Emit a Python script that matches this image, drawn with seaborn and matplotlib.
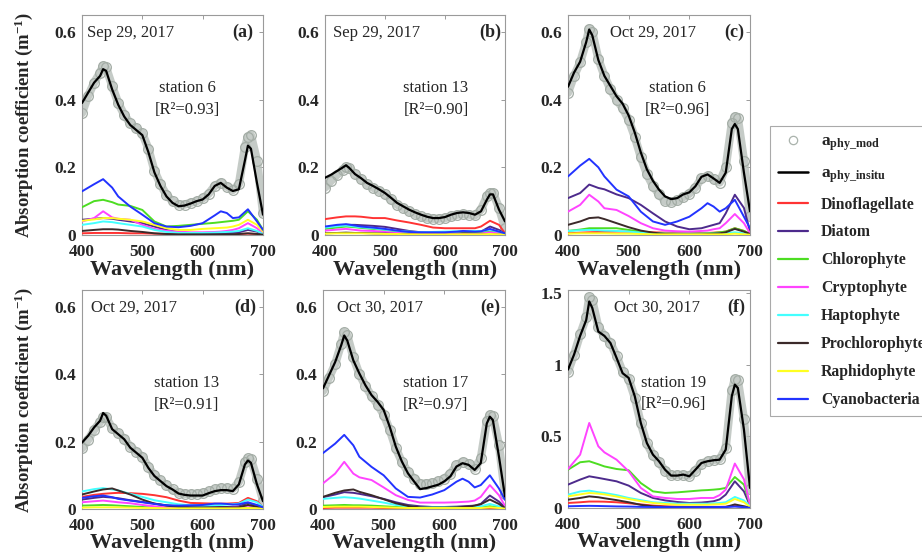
import numpy as np
import pandas as pd
import matplotlib
matplotlib.use("Agg")
import matplotlib.pyplot as plt
import seaborn as sns
from matplotlib.lines import Line2D

sns.set_theme(style="white")
plt.rcParams["font.family"] = ["Liberation Serif", "DejaVu Serif"]
plt.rcParams["mathtext.fontset"] = "custom"
plt.rcParams["mathtext.rm"] = "Liberation Serif"
plt.rcParams["mathtext.bf"] = "Liberation Serif:bold"
plt.rcParams["mathtext.it"] = "Liberation Serif:italic"

# ---------------- data ----------------
WL = [400, 410, 420, 430, 435, 440, 450, 460, 470, 480, 490, 500, 510, 520, 530, 540,
      550, 560, 570, 580, 590, 600, 610, 620, 630, 640, 650, 660, 670, 675, 680, 690, 700]
WL_C = [400, 420, 435, 450, 460, 480, 500, 520, 540, 560, 580, 600, 620, 630, 640, 650,
        660, 675, 690, 700]

GROUPS = ["Dinoflagellate", "Diatom", "Chlorophyte", "Cryptophyte", "Haptophyte",
          "Prochlorophyte", "Raphidophyte", "Cyanobacteria"]

PANEL_LABELS = ["(a)", "(b)", "(c)", "(d)", "(e)", "(f)"]
DATES = ["Sep 29, 2017", "Sep 29, 2017", "Oct 29, 2017", "Oct 29, 2017", "Oct 30, 2017", "Oct 30, 2017"]
STATIONS = ["station 6", "station 13", "station 6", "station 13", "station 17", "station 19"]
R2 = ["0.93", "0.90", "0.96", "0.91", "0.97", "0.96"]

insitu_a = [0.39, 0.42, 0.45, 0.47, 0.49, 0.485, 0.43, 0.385, 0.35, 0.325, 0.31, 0.295, 0.245, 0.185, 0.145, 0.114,
            0.095, 0.085, 0.087, 0.093, 0.10, 0.105, 0.12, 0.145, 0.154, 0.14, 0.13, 0.135, 0.22, 0.264, 0.255, 0.154, 0.06]
mod_a = [0.36, 0.41, 0.45, 0.48, 0.50, 0.495, 0.44, 0.39, 0.355, 0.33, 0.315, 0.30, 0.255, 0.19, 0.15, 0.118,
         0.10, 0.09, 0.09, 0.095, 0.10, 0.108, 0.122, 0.145, 0.155, 0.143, 0.133, 0.15, 0.26, 0.29, 0.295, 0.22, 0.065]
insitu_b = [0.169, 0.178, 0.189, 0.20, 0.206, 0.199, 0.18, 0.168, 0.154, 0.145, 0.135, 0.124, 0.11, 0.095, 0.085, 0.075,
            0.067, 0.06, 0.054, 0.05, 0.05, 0.053, 0.06, 0.065, 0.067, 0.065, 0.06, 0.07, 0.105, 0.12, 0.12, 0.075, 0.04]
mod_b = [0.14, 0.16, 0.178, 0.192, 0.20, 0.198, 0.18, 0.165, 0.15, 0.14, 0.13, 0.12, 0.105, 0.09, 0.08, 0.07,
         0.062, 0.055, 0.05, 0.048, 0.048, 0.05, 0.055, 0.06, 0.062, 0.06, 0.058, 0.075, 0.115, 0.125, 0.125, 0.08, 0.02]
insitu_c = [0.438, 0.48, 0.512, 0.57, 0.607, 0.59, 0.517, 0.47, 0.44, 0.41, 0.388, 0.353, 0.303, 0.244, 0.194, 0.16,
            0.134, 0.114, 0.106, 0.109, 0.12, 0.126, 0.144, 0.172, 0.179, 0.167, 0.154, 0.184, 0.313, 0.328, 0.313, 0.184, 0.07]
mod_c = [0.42, 0.47, 0.51, 0.57, 0.61, 0.60, 0.52, 0.47, 0.43, 0.40, 0.375, 0.34, 0.29, 0.23, 0.18, 0.145,
         0.12, 0.10, 0.097, 0.102, 0.112, 0.122, 0.14, 0.168, 0.175, 0.165, 0.155, 0.20, 0.33, 0.35, 0.345, 0.22, 0.055]
insitu_d = [0.197, 0.217, 0.242, 0.262, 0.285, 0.277, 0.237, 0.222, 0.207, 0.182, 0.167, 0.152, 0.122, 0.098, 0.083, 0.068,
            0.058, 0.046, 0.042, 0.04, 0.04, 0.04, 0.047, 0.053, 0.056, 0.056, 0.053, 0.073, 0.132, 0.144, 0.137, 0.073, 0.023]
mod_d = [0.18, 0.205, 0.235, 0.258, 0.272, 0.272, 0.24, 0.225, 0.208, 0.185, 0.17, 0.155, 0.125, 0.10, 0.085, 0.07,
         0.058, 0.048, 0.045, 0.044, 0.045, 0.047, 0.052, 0.058, 0.062, 0.062, 0.06, 0.08, 0.14, 0.15, 0.148, 0.09, 0.025]
insitu_e = [0.358, 0.397, 0.436, 0.486, 0.515, 0.50, 0.441, 0.402, 0.367, 0.338, 0.318, 0.294, 0.244, 0.185, 0.141, 0.106,
            0.082, 0.059, 0.062, 0.067, 0.072, 0.082, 0.097, 0.126, 0.136, 0.131, 0.116, 0.136, 0.254, 0.274, 0.264, 0.156, 0.037]
mod_e = [0.35, 0.39, 0.43, 0.49, 0.525, 0.515, 0.45, 0.40, 0.365, 0.335, 0.31, 0.28, 0.235, 0.18, 0.14, 0.11,
         0.09, 0.075, 0.075, 0.078, 0.082, 0.09, 0.105, 0.13, 0.14, 0.135, 0.12, 0.15, 0.26, 0.28, 0.275, 0.19, 0.045]
insitu_f = [0.965, 1.07, 1.20, 1.31, 1.44, 1.395, 1.23, 1.20, 1.15, 1.047, 0.94, 0.907, 0.78, 0.593, 0.453, 0.372,
            0.326, 0.267, 0.226, 0.226, 0.233, 0.221, 0.267, 0.314, 0.326, 0.333, 0.337, 0.407, 0.78, 0.86, 0.837, 0.547, 0.14]
mod_f = [0.95, 1.07, 1.21, 1.33, 1.47, 1.45, 1.26, 1.20, 1.15, 1.06, 0.95, 0.90, 0.77, 0.59, 0.45, 0.37,
         0.32, 0.26, 0.23, 0.23, 0.23, 0.225, 0.26, 0.31, 0.325, 0.335, 0.34, 0.42, 0.82, 0.90, 0.89, 0.62, 0.13]

# components on WL_C, order as GROUPS
comp_a = [
    [0.005, 0.006, 0.006, 0.006, 0.006, 0.005, 0.005, 0.004, 0.003, 0.002, 0.002, 0.002, 0.002, 0.002, 0.002, 0.002, 0.003, 0.004, 0.003, 0.001],
    [0.045, 0.048, 0.05, 0.048, 0.045, 0.04, 0.035, 0.025, 0.015, 0.008, 0.005, 0.005, 0.005, 0.006, 0.006, 0.006, 0.008, 0.015, 0.01, 0.002],
    [0.082, 0.10, 0.104, 0.097, 0.09, 0.086, 0.074, 0.04, 0.025, 0.027, 0.03, 0.033, 0.036, 0.038, 0.04, 0.042, 0.045, 0.07, 0.045, 0.015],
    [0.04, 0.05, 0.07, 0.052, 0.048, 0.045, 0.03, 0.018, 0.012, 0.01, 0.008, 0.008, 0.009, 0.01, 0.012, 0.015, 0.02, 0.035, 0.02, 0.005],
    [0.03, 0.035, 0.04, 0.038, 0.035, 0.03, 0.025, 0.015, 0.009, 0.006, 0.006, 0.006, 0.007, 0.008, 0.009, 0.01, 0.012, 0.02, 0.012, 0.003],
    [0.012, 0.015, 0.017, 0.017, 0.016, 0.012, 0.009, 0.005, 0.003, 0.002, 0.002, 0.002, 0.002, 0.002, 0.002, 0.002, 0.003, 0.005, 0.003, 0.001],
    [0.042, 0.046, 0.05, 0.05, 0.048, 0.045, 0.04, 0.03, 0.02, 0.015, 0.015, 0.018, 0.02, 0.021, 0.022, 0.025, 0.03, 0.045, 0.03, 0.01],
    [0.129, 0.15, 0.165, 0.14, 0.114, 0.084, 0.06, 0.035, 0.025, 0.023, 0.027, 0.035, 0.058, 0.07, 0.065, 0.05, 0.052, 0.076, 0.04, 0.015],
]
comp_b = [
    [0.047, 0.052, 0.055, 0.055, 0.054, 0.05, 0.05, 0.043, 0.037, 0.03, 0.022, 0.02, 0.02, 0.02, 0.02, 0.02, 0.025, 0.042, 0.03, 0.005],
    [0.022, 0.027, 0.03, 0.03, 0.029, 0.027, 0.024, 0.018, 0.012, 0.008, 0.006, 0.005, 0.005, 0.006, 0.006, 0.006, 0.01, 0.025, 0.015, 0.003],
    [0.018, 0.022, 0.025, 0.023, 0.021, 0.018, 0.015, 0.01, 0.007, 0.006, 0.005, 0.004, 0.004, 0.004, 0.004, 0.005, 0.006, 0.012, 0.008, 0.002],
    [0.013, 0.016, 0.018, 0.015, 0.013, 0.012, 0.009, 0.006, 0.004, 0.003, 0.003, 0.003, 0.003, 0.003, 0.003, 0.003, 0.004, 0.008, 0.005, 0.001],
    [0.022, 0.026, 0.028, 0.025, 0.023, 0.02, 0.016, 0.012, 0.01, 0.008, 0.009, 0.01, 0.011, 0.012, 0.012, 0.012, 0.012, 0.015, 0.01, 0.003],
    [0.005, 0.006, 0.007, 0.006, 0.006, 0.005, 0.004, 0.003, 0.002, 0.001, 0.001, 0.001, 0.001, 0.001, 0.001, 0.001, 0.001, 0.002, 0.001, 0.0],
    [0.004, 0.005, 0.005, 0.005, 0.005, 0.004, 0.003, 0.003, 0.002, 0.002, 0.002, 0.002, 0.002, 0.002, 0.002, 0.002, 0.002, 0.003, 0.002, 0.001],
    [0.025, 0.03, 0.032, 0.028, 0.025, 0.022, 0.018, 0.013, 0.009, 0.008, 0.008, 0.008, 0.01, 0.012, 0.011, 0.01, 0.011, 0.018, 0.01, 0.005],
]
comp_c = [
    [0.005, 0.007, 0.008, 0.009, 0.009, 0.01, 0.01, 0.009, 0.008, 0.007, 0.006, 0.006, 0.006, 0.006, 0.007, 0.008, 0.01, 0.02, 0.012, 0.003],
    [0.109, 0.124, 0.149, 0.139, 0.135, 0.12, 0.109, 0.089, 0.064, 0.04, 0.025, 0.017, 0.02, 0.025, 0.03, 0.035, 0.064, 0.119, 0.08, 0.01],
    [0.012, 0.016, 0.02, 0.02, 0.02, 0.02, 0.015, 0.01, 0.006, 0.004, 0.003, 0.003, 0.004, 0.005, 0.006, 0.008, 0.01, 0.02, 0.012, 0.003],
    [0.069, 0.089, 0.119, 0.099, 0.079, 0.074, 0.056, 0.035, 0.02, 0.013, 0.011, 0.01, 0.012, 0.013, 0.017, 0.02, 0.035, 0.062, 0.035, 0.005],
    [0.012, 0.014, 0.015, 0.014, 0.013, 0.012, 0.01, 0.007, 0.005, 0.004, 0.004, 0.004, 0.004, 0.004, 0.004, 0.005, 0.005, 0.008, 0.005, 0.001],
    [0.03, 0.04, 0.05, 0.052, 0.047, 0.035, 0.023, 0.013, 0.007, 0.003, 0.002, 0.002, 0.002, 0.003, 0.004, 0.005, 0.008, 0.018, 0.01, 0.003],
    [0.004, 0.005, 0.005, 0.005, 0.005, 0.004, 0.004, 0.003, 0.002, 0.002, 0.002, 0.002, 0.002, 0.002, 0.002, 0.002, 0.002, 0.004, 0.002, 0.001],
    [0.173, 0.205, 0.225, 0.20, 0.173, 0.134, 0.114, 0.069, 0.04, 0.03, 0.04, 0.054, 0.079, 0.094, 0.084, 0.069, 0.079, 0.104, 0.054, 0.02],
]
comp_d = [
    [0.036, 0.042, 0.045, 0.047, 0.048, 0.047, 0.045, 0.041, 0.035, 0.025, 0.018, 0.017, 0.016, 0.016, 0.016, 0.017, 0.018, 0.033, 0.023, 0.006],
    [0.028, 0.033, 0.036, 0.034, 0.032, 0.026, 0.021, 0.016, 0.011, 0.008, 0.006, 0.006, 0.006, 0.006, 0.006, 0.006, 0.008, 0.018, 0.01, 0.003],
    [0.01, 0.011, 0.012, 0.011, 0.01, 0.008, 0.006, 0.004, 0.003, 0.002, 0.002, 0.002, 0.002, 0.002, 0.002, 0.002, 0.002, 0.004, 0.002, 0.001],
    [0.02, 0.023, 0.025, 0.022, 0.02, 0.017, 0.012, 0.008, 0.005, 0.004, 0.003, 0.003, 0.003, 0.003, 0.003, 0.004, 0.005, 0.01, 0.006, 0.001],
    [0.052, 0.059, 0.062, 0.058, 0.055, 0.045, 0.036, 0.026, 0.02, 0.014, 0.011, 0.01, 0.011, 0.012, 0.013, 0.014, 0.016, 0.028, 0.02, 0.006],
    [0.043, 0.052, 0.058, 0.061, 0.055, 0.043, 0.028, 0.016, 0.01, 0.006, 0.004, 0.004, 0.004, 0.004, 0.004, 0.004, 0.005, 0.012, 0.007, 0.002],
    [0.004, 0.005, 0.005, 0.005, 0.005, 0.004, 0.003, 0.003, 0.002, 0.002, 0.002, 0.002, 0.002, 0.002, 0.002, 0.002, 0.002, 0.003, 0.002, 0.001],
    [0.033, 0.038, 0.04, 0.035, 0.03, 0.025, 0.02, 0.015, 0.011, 0.01, 0.011, 0.012, 0.016, 0.016, 0.015, 0.013, 0.014, 0.02, 0.012, 0.005],
]
comp_e = [
    [0.003, 0.004, 0.004, 0.004, 0.004, 0.004, 0.003, 0.003, 0.002, 0.002, 0.002, 0.002, 0.002, 0.002, 0.002, 0.002, 0.002, 0.003, 0.002, 0.001],
    [0.035, 0.043, 0.05, 0.048, 0.045, 0.038, 0.03, 0.02, 0.012, 0.008, 0.006, 0.006, 0.007, 0.008, 0.009, 0.01, 0.015, 0.04, 0.022, 0.005],
    [0.01, 0.011, 0.012, 0.011, 0.011, 0.01, 0.008, 0.006, 0.005, 0.004, 0.004, 0.004, 0.004, 0.004, 0.004, 0.004, 0.005, 0.008, 0.005, 0.002],
    [0.076, 0.105, 0.14, 0.105, 0.094, 0.086, 0.064, 0.041, 0.027, 0.019, 0.019, 0.019, 0.02, 0.021, 0.022, 0.025, 0.036, 0.071, 0.041, 0.009],
    [0.03, 0.033, 0.035, 0.033, 0.031, 0.025, 0.019, 0.012, 0.008, 0.005, 0.005, 0.005, 0.005, 0.005, 0.006, 0.007, 0.008, 0.015, 0.008, 0.003],
    [0.036, 0.048, 0.055, 0.058, 0.051, 0.041, 0.029, 0.017, 0.009, 0.005, 0.004, 0.004, 0.005, 0.006, 0.007, 0.01, 0.014, 0.028, 0.015, 0.003],
    [0.006, 0.007, 0.007, 0.007, 0.007, 0.006, 0.005, 0.004, 0.003, 0.003, 0.003, 0.003, 0.003, 0.003, 0.003, 0.003, 0.003, 0.005, 0.003, 0.001],
    [0.166, 0.194, 0.22, 0.189, 0.155, 0.125, 0.10, 0.061, 0.036, 0.034, 0.043, 0.056, 0.081, 0.09, 0.081, 0.064, 0.071, 0.10, 0.061, 0.027],
]
comp_f = [
    [0.035, 0.04, 0.045, 0.045, 0.044, 0.04, 0.033, 0.025, 0.017, 0.012, 0.01, 0.008, 0.008, 0.008, 0.008, 0.008, 0.009, 0.015, 0.009, 0.002],
    [0.163, 0.198, 0.221, 0.21, 0.202, 0.186, 0.156, 0.105, 0.07, 0.053, 0.042, 0.035, 0.038, 0.042, 0.047, 0.06, 0.093, 0.186, 0.116, 0.016],
    [0.267, 0.319, 0.326, 0.305, 0.29, 0.272, 0.263, 0.174, 0.116, 0.105, 0.109, 0.116, 0.123, 0.125, 0.128, 0.132, 0.14, 0.216, 0.163, 0.023],
    [0.272, 0.372, 0.593, 0.43, 0.388, 0.337, 0.256, 0.14, 0.081, 0.07, 0.063, 0.063, 0.07, 0.07, 0.07, 0.09, 0.128, 0.31, 0.20, 0.023],
    [0.093, 0.115, 0.121, 0.11, 0.105, 0.09, 0.07, 0.055, 0.04, 0.035, 0.03, 0.03, 0.03, 0.03, 0.032, 0.035, 0.04, 0.077, 0.053, 0.012],
    [0.058, 0.07, 0.081, 0.075, 0.068, 0.055, 0.04, 0.022, 0.012, 0.008, 0.006, 0.005, 0.005, 0.005, 0.005, 0.006, 0.007, 0.025, 0.012, 0.003],
    [0.081, 0.095, 0.105, 0.10, 0.095, 0.08, 0.063, 0.048, 0.035, 0.028, 0.023, 0.023, 0.023, 0.023, 0.025, 0.027, 0.03, 0.063, 0.04, 0.007],
    [0.012, 0.014, 0.015, 0.014, 0.013, 0.011, 0.01, 0.008, 0.007, 0.006, 0.006, 0.006, 0.006, 0.007, 0.007, 0.007, 0.007, 0.01, 0.006, 0.002],
]

INSITU = [insitu_a, insitu_b, insitu_c, insitu_d, insitu_e, insitu_f]
MOD = [mod_a, mod_b, mod_c, mod_d, mod_e, mod_f]
COMPS = [comp_a, comp_b, comp_c, comp_d, comp_e, comp_f]

COLORS = {
    "Dinoflagellate": "#ff3333",
    "Diatom": "#4d2a8c",
    "Chlorophyte": "#4ddd22",
    "Cryptophyte": "#ff44ff",
    "Haptophyte": "#44ffff",
    "Prochlorophyte": "#3b2a2a",
    "Raphidophyte": "#ffff22",
    "Cyanobacteria": "#2233ff",
}
MOD_COLOR = "#b7bfb9"

# ---------------- layout ----------------
W, H = 922, 552
fig = plt.figure(figsize=(W / 100, H / 100), dpi=100)

def frac(l, r, t, b):
    return [l / W, 1 - b / H, (r - l) / W, (b - t) / H]

AX_POS = [frac(82, 263, 15, 235), frac(325, 505, 15, 235), frac(568, 750, 15, 235),
          frac(82, 263, 290, 509), frac(323, 505, 290, 509), frac(568, 750, 290, 508)]
DATE_X = [0.03, 0.045, 0.23, 0.05, 0.077, 0.25]
LABEL_X = [0.945, 0.98, 0.97, 0.96, 0.975, 0.975]
ST_X = [0.58, 0.617, 0.60, 0.577, 0.62, 0.58]
ST_Y = [0.67, 0.67, 0.67, 0.575, 0.575, 0.575]

spine_c = "#9a9a9a"
for i in range(6):
    ax = fig.add_axes(AX_POS[i])
    df_mod = pd.DataFrame({"wl": WL, "a": MOD[i]})
    sns.lineplot(data=df_mod, x="wl", y="a", ax=ax, color=MOD_COLOR, lw=6, alpha=0.8,
                 solid_capstyle="round", zorder=1)
    sns.lineplot(data=df_mod, x="wl", y="a", ax=ax, color=MOD_COLOR, lw=0, marker="o",
                 markersize=7, markerfacecolor="none", markeredgecolor="#a4ada6",
                 markeredgewidth=0.9, zorder=2)
    rows = []
    for g, vals in zip(GROUPS, COMPS[i]):
        for w, v in zip(WL_C, vals):
            rows.append((g, w, v))
    dfc = pd.DataFrame(rows, columns=["group", "wl", "a"])
    sns.lineplot(data=dfc, x="wl", y="a", hue="group", hue_order=GROUPS, palette=COLORS,
                 ax=ax, lw=1.4, legend=False, zorder=3)
    df_in = pd.DataFrame({"wl": WL, "a": INSITU[i]})
    sns.lineplot(data=df_in, x="wl", y="a", ax=ax, color="black", lw=1.6, zorder=4)

    ax.set_xlim(400, 700)
    ax.set_xticks([400, 500, 600, 700])
    ax.set_xticklabels(["400", "500", "600", "700"])
    if i == 5:
        ax.set_ylim(0, 1.52)
        ax.set_yticks([0, 0.5, 1, 1.5])
        ax.set_yticklabels(["0", "0.5", "1", "1.5"])
    else:
        ax.set_ylim(0, 0.65)
        ax.set_yticks([0, 0.2, 0.4, 0.6])
        ax.set_yticklabels(["0", "0.2", "0.4", "0.6"])
    ax.tick_params(direction="in", length=3, width=0.7, color=spine_c, top=True, right=True,
                   labelsize=12.5)
    ax.tick_params(axis="x", pad=6.5)
    ax.tick_params(axis="y", pad=4)
    for lab in ax.get_xticklabels() + ax.get_yticklabels():
        lab.set_fontweight("bold")
    for s in ax.spines.values():
        s.set_color(spine_c)
        s.set_linewidth(0.8)
    ax.set_xlabel("Wavelength (nm)", fontsize=16, fontweight="bold")
    ax.xaxis.set_label_coords(0.5, -0.112 if i < 3 else -0.108)
    if i in (0, 3):
        ax.set_ylabel(r"Absorption coefficient (m$^{\mathbf{-1}}$)", fontsize=13.5,
                      fontweight="bold")
        ax.yaxis.set_label_coords(-0.257, 0.5)
    else:
        ax.set_ylabel("")
    ax.text(DATE_X[i], 0.92, DATES[i], transform=ax.transAxes, fontsize=12,
            ha="left", va="center")
    ax.text(LABEL_X[i], 0.92, PANEL_LABELS[i], transform=ax.transAxes, fontsize=13,
            fontweight="bold", ha="right", va="center")
    ax.text(ST_X[i], ST_Y[i], STATIONS[i], transform=ax.transAxes, fontsize=12,
            ha="center", va="center")
    ax.text(ST_X[i], ST_Y[i] - 0.1, "[R²=" + R2[i] + "]", transform=ax.transAxes,
            fontsize=12, ha="center", va="center")

# legend
handles = [Line2D([], [], lw=0, marker="o", markersize=6, markerfacecolor="none",
                  markeredgecolor="#aab3ac", markeredgewidth=0.9),
           Line2D([], [], color="black", lw=1.8)]
labels = [r"$\mathbf{a}_{\mathbf{phy\_mod}}$", r"$\mathbf{a}_{\mathbf{phy\_insitu}}$"]
for g in GROUPS:
    handles.append(Line2D([], [], color=COLORS[g], lw=1.6))
    labels.append(g)
leg = fig.legend(handles, labels, loc="upper left", bbox_to_anchor=(770 / W, 1 - 126 / H),
                 frameon=True, fancybox=False, edgecolor="#aaaaaa", framealpha=1,
                 prop={"family": "Liberation Serif", "weight": "bold", "size": 11.3},
                 handlelength=1.95, handletextpad=0.8, labelspacing=0.76, borderpad=0.5,
                 borderaxespad=0)
for t in leg.get_texts()[:2]:
    t.set_fontsize(12.5)
leg.get_frame().set_linewidth(0.8)

fig.savefig("out.png", dpi=100)
